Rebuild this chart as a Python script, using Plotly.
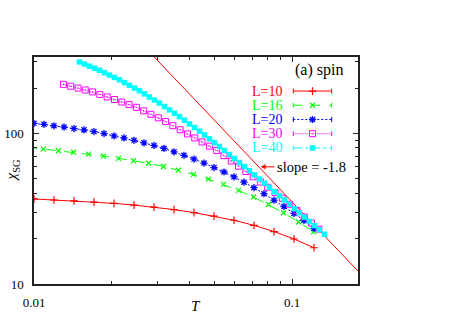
import plotly.graph_objects as go

# ---------------- data ----------------
T_L10 = [0.01, 0.01195, 0.01429, 0.01708, 0.02042, 0.02441, 0.02918, 0.03489, 0.04170, 0.04986,
         0.05960, 0.07124, 0.08517, 0.1018, 0.1217]
chi_L10 = [36.7, 36.1, 35.6, 35.0, 34.3, 33.4, 32.4, 31.2, 29.8, 28.2, 26.5, 24.5, 22.3, 19.9, 17.4]

T_L16 = [0.00952, 0.01088, 0.01244, 0.01423, 0.01627, 0.01860, 0.02126, 0.02430, 0.02779, 0.03177,
         0.03632, 0.04151, 0.04746, 0.05426, 0.06204, 0.07093, 0.08109, 0.09271, 0.10598, 0.12117]
chi_L16 = [80.7, 78.6, 76.7, 74.9, 72.8, 70.7, 68.3, 65.8, 63.3, 60.3,
           57.0, 53.4, 49.7, 45.8, 41.8, 37.8, 33.7, 29.7, 25.8, 22.2]

T_L20 = [0.01, 0.01093, 0.01195, 0.01307, 0.01429, 0.01562, 0.01708, 0.01868, 0.02042, 0.02233,
         0.02441, 0.02669, 0.02918, 0.03191, 0.03489, 0.03814, 0.04170, 0.04560, 0.04986, 0.05451,
         0.05960, 0.06516, 0.07124, 0.07789, 0.08517, 0.09311, 0.1018, 0.1113, 0.1217]
chi_L20 = [116.6, 114.8, 112.3, 110.1, 107.6, 105.5, 102.8, 99.7, 96.2, 93.3,
           89.9, 86.5, 83.2, 79.5, 75.4, 71.5, 67.5, 63.5, 59.3, 55.4,
           51.4, 47.4, 43.6, 39.8, 36.0, 32.7, 29.4, 26.4, 23.4]

T_L30 = [0.01300, 0.01387, 0.01481, 0.01580, 0.01687, 0.01800, 0.01921, 0.02051, 0.02189, 0.02336,
         0.02494, 0.02661, 0.02840, 0.03032, 0.03236, 0.03453, 0.03686, 0.03934, 0.04199, 0.04481,
         0.04783, 0.05105, 0.05448, 0.05815, 0.06206, 0.06624, 0.07070, 0.07545, 0.08053, 0.08595,
         0.09174, 0.09791, 0.10450, 0.11153, 0.11904, 0.12710]
chi_L30 = [211.7, 205.7, 199.8, 194.1, 188.5, 181.4, 174.6, 167.8, 161.5, 155.2,
           148.9, 141.1, 133.8, 126.8, 119.8, 112.5, 105.7, 99.2, 93.2, 87.7,
           82.3, 77.0, 71.1, 65.5, 60.5, 55.8, 51.5, 47.5, 43.9, 40.5,
           37.1, 33.8, 30.7, 27.9, 25.4, 23.1]

T_L40 = [0.01500, 0.01568, 0.01640, 0.01715, 0.01793, 0.01875, 0.01961, 0.02050, 0.02144, 0.02242,
         0.02344, 0.02451, 0.02563, 0.02680, 0.02802, 0.02930, 0.03064, 0.03204, 0.03350, 0.03503,
         0.03663, 0.03830, 0.04005, 0.04188, 0.04379, 0.04579, 0.04786, 0.05005, 0.05233, 0.05472,
         0.05722, 0.05983, 0.06257, 0.06542, 0.06840, 0.07153, 0.07479, 0.07820, 0.08177, 0.08550,
         0.08941, 0.09348, 0.09775, 0.10219, 0.10686, 0.11174, 0.11683, 0.12217, 0.12772, 0.13356]
chi_L40 = [297.9, 288.5, 279.3, 270.9, 262.3, 252.8, 243.8, 235.3, 226.8, 217.5,
           208.5, 199.9, 191.7, 182.8, 174.5, 166.5, 158.8, 150.7, 143.2, 136.0,
           129.1, 122.2, 115.6, 109.3, 103.4, 97.6, 92.0, 86.8, 81.8, 77.0,
           72.4, 68.1, 64.0, 60.2, 56.5, 53.0, 49.8, 46.7, 43.8, 41.0,
           38.5, 36.1, 33.8, 31.6, 29.7, 27.8, 26.0, 24.4, 22.9, 21.4]

slope = -1.8
slope_amp = 0.557
slope_T = [0.01, 0.25]

x_tick_vals = [0.01, 0.1]
x_tick_text = ["0.01", "0.1"]
x_minor_vals = [0.02, 0.03, 0.04, 0.05, 0.06, 0.07, 0.08, 0.09]
y_tick_vals = [10, 100]
y_tick_text = ["10", "100"]
y_minor_vals = [20, 30, 40, 50, 60, 70, 80, 90, 200, 300]

labels = ["L=10", "L=16", "L=20", "L=30", "L=40"]
# ---------------------------------------

SERIF = "Liberation Serif, Times New Roman, serif"

styles = [
    dict(color="#ff0000", dash="solid",
         marker=dict(symbol="cross-thin", size=5.5, color="#ff0000", line=dict(width=1.2, color="#ff0000"))),
    dict(color="#00ff00", dash="dash",
         marker=dict(symbol="x-thin", size=5, color="#00ff00", line=dict(width=1.2, color="#00ff00"))),
    dict(color="#0000ff", dash="2px,2px",
         marker=dict(symbol="asterisk-open", size=6, color="#0000ff", line=dict(width=1.3, color="#0000ff"))),
    dict(color="#ff00ff", dash="1px,1px",
         marker=dict(symbol="square-open-dot", size=6, color="#ff00ff", line=dict(width=1, color="#ff00ff"))),
    dict(color="#00ffff", dash="dashdot",
         marker=dict(symbol="square", size=5.5, color="#00ffff", line=dict(width=0))),
]

data = [(T_L10, chi_L10), (T_L16, chi_L16), (T_L20, chi_L20), (T_L30, chi_L30), (T_L40, chi_L40)]

fig = go.Figure()

# slope reference line
fig.add_trace(go.Scatter(
    x=slope_T, y=[slope_amp * t ** slope for t in slope_T], mode="lines",
    line=dict(color="#ff0000", width=1), showlegend=False, hoverinfo="skip"))

for (T, chi), st, lab in zip(data, styles, labels):
    fig.add_trace(go.Scatter(
        x=T, y=chi, mode="lines+markers", name=lab, showlegend=False,
        line=dict(color=st["color"], width=1, dash=st["dash"]),
        marker=st["marker"]))

# legend built gnuplot-style on a pixel overlay axis
row_y = [91, 105.2, 119.4, 133.6, 147.8]
xs0, xs1 = 293.3, 331.7
for st, lab, yy in zip(styles, labels, row_y):
    fig.add_trace(go.Scatter(
        x=[xs0, xs1], y=[yy, yy], xaxis="x2", yaxis="y2", mode="lines",
        line=dict(color=st["color"], width=1, dash=st["dash"]), showlegend=False, hoverinfo="skip"))
    fig.add_trace(go.Scatter(
        x=[xs0, xs0, None, xs1, xs1], y=[yy - 2.5, yy + 2.5, None, yy - 2.5, yy + 2.5],
        xaxis="x2", yaxis="y2", mode="lines",
        line=dict(color=st["color"], width=1), showlegend=False, hoverinfo="skip"))
    fig.add_trace(go.Scatter(
        x=[(xs0 + xs1) / 2], y=[yy], xaxis="x2", yaxis="y2", mode="markers",
        marker=st["marker"], showlegend=False, hoverinfo="skip"))
    fig.add_annotation(x=284, y=yy, xref="x2", yref="y2", text=lab, showarrow=False,
                       xanchor="right", yanchor="middle",
                       font=dict(family=SERIF, size=14, color=st["color"]))

fig.add_annotation(x=345, y=69.5, xref="x2", yref="y2", text="(a) spin", showarrow=False,
                   xanchor="right", yanchor="middle", font=dict(family=SERIF, size=16, color="black"))
# slope label with red arrow pointing to the reference line
fig.add_annotation(x=260.7, y=166.7, xref="x2", yref="y2", ax=311.5, ay=166.7,
                   axref="x2", ayref="y2", text="slope = -1.8", showarrow=True,
                   arrowhead=2, arrowsize=1, arrowwidth=1, arrowcolor="#ff0000",
                   standoff=0, startstandoff=2, borderpad=0,
                   font=dict(family=SERIF, size=14.5, color="black"))
# axis titles (paper coordinates)
fig.add_annotation(x=0.5, y=-0.098, xref="paper", yref="paper", text="<i>T</i>", showarrow=False,
                   xanchor="center", yanchor="middle", font=dict(family=SERIF, size=15, color="black"))
fig.add_annotation(x=-0.068, y=0.50, xref="paper", yref="paper", text="<i>χ</i><sub>SG</sub>",
                   showarrow=False, textangle=-90, xanchor="center", yanchor="middle",
                   font=dict(family=SERIF, size=15, color="black"))

axis_common = dict(showline=True, linecolor="#222222", linewidth=1.5, mirror="ticks",
                   ticks="inside", ticklen=5, tickwidth=1, tickcolor="#222222",
                   showgrid=False, zeroline=False, automargin=False,
                   tickfont=dict(family=SERIF, size=13, color="black"))

fig.update_layout(
    width=467, height=327,
    margin=dict(l=34, r=109, t=57, b=43.3, autoexpand=False),
    paper_bgcolor="white", plot_bgcolor="white",
    showlegend=False,
    xaxis=dict(type="log", range=[-2, -0.7442], tickmode="array",
               tickvals=x_tick_vals, ticktext=x_tick_text, ticklabelstandoff=6,
               minor=dict(tickmode="array", tickvals=x_minor_vals, ticks="inside", ticklen=3,
                          tickcolor="#222222", showgrid=False),
               **axis_common),
    yaxis=dict(type="log", range=[1, 2.507], tickmode="array",
               tickvals=y_tick_vals, ticktext=y_tick_text, ticklabelstandoff=6,
               minor=dict(tickmode="array", tickvals=y_minor_vals, ticks="inside", ticklen=3,
                          tickcolor="#222222", showgrid=False),
               **axis_common),
    xaxis2=dict(overlaying="x", range=[34, 358], visible=False, anchor="y2", automargin=False),
    yaxis2=dict(overlaying="y", range=[283.7, 57], visible=False, anchor="x2", automargin=False),
)

fig.write_html("out.html", config={"displayModeBar": False},
               post_script="document.body.style.margin='0';")
